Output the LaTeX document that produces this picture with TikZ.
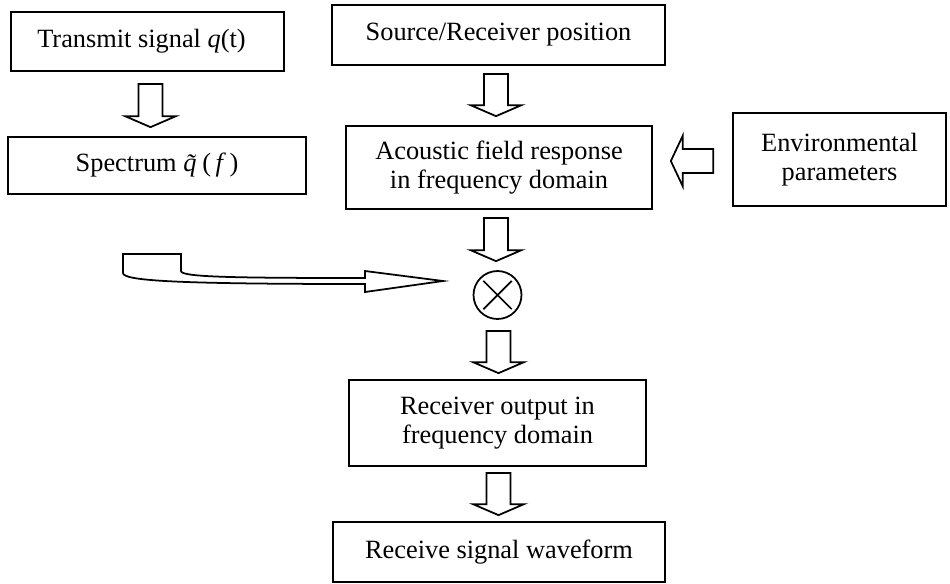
\documentclass[tikz,border=0pt]{standalone}
\usepackage{fontspec}
\setmainfont{Liberation Serif}
\usetikzlibrary{calc}
\tikzset{
  box/.style={draw,line width=1pt,inner sep=2pt,align=center,
              font=\fontsize{15}{16.5}\selectfont},
  mult/.style={circle,draw,line width=1pt,minimum size=0.96cm,inner sep=0pt,
              path picture={\draw[line width=1pt]
                (path picture bounding box.center) +(45:0.4cm) -- +(225:0.4cm)
                +(135:0.4cm) -- +(315:0.4cm);}},
  hollowdown/.style={draw,line width=1pt,fill=white,line join=miter,
    to path={let \p1=(\tikztostart),\p2=(\tikztotarget) in
      (\x1-0.24cm,\y1) -- (\x1+0.24cm,\y1) -- (\x1+0.24cm,\y2+0.22cm)
      -- (\x1+0.51cm,\y2+0.22cm) -- (\x1,\y2) -- (\x1-0.51cm,\y2+0.22cm)
      -- (\x1-0.24cm,\y2+0.22cm) -- cycle}},
  hollowleft/.style={draw,line width=1pt,fill=white,line join=miter,
    to path={let \p1=(\tikztostart),\p2=(\tikztotarget) in
      (\x1,\y1+0.24cm) -- (\x1,\y1-0.24cm) -- (\x2+0.24cm,\y1-0.24cm)
      -- (\x2+0.24cm,\y1-0.51cm) -- (\x2,\y1) -- (\x2+0.24cm,\y1+0.51cm)
      -- (\x2+0.24cm,\y1+0.24cm) -- cycle}},
  bentarrow/.style={draw,line width=1pt,fill=white,line join=miter},
}

\begin{document}
\begin{tikzpicture}[x=0.02cm,y=-0.02cm]
  \useasboundingbox (0,0) rectangle (950,583);
  % boxes of the chain, px positions of the layout
  \node[box,minimum width=5.46cm,minimum height=1.18cm] (tx) at (147.5,41.5)
    {Transmit signal \textit{q}(t)\hspace*{0.24cm}};
  \node[box,minimum width=5.96cm,minimum height=1.14cm] (sp) at (157,165.5)
    {Spectrum \textit{\~{q}}\kern-2.5pt(\kern2.5pt\textit{f}\kern2pt)};
  \node[box,minimum width=6.66cm,minimum height=1.2cm] (src) at (498.5,35)
    {Source/Receiver position};
  \node[box,minimum width=6.12cm,minimum height=1.66cm] (acf) at (499,167.5)
    {Acoustic field response\\in frequency domain};
  \node[box,minimum width=4.26cm,minimum height=1.86cm] (env) at (839.5,159.5)
    {Environmental\\parameters};
  \node[mult] (mul) at (497.5,295) {};
  \node[box,minimum width=5.94cm,minimum height=1.72cm] (rxo) at (497.5,423)
    {Receiver output in\\frequency domain};
  \node[box,minimum width=6.64cm,minimum height=1.2cm] (rsw) at (499,552)
    {Receive signal waveform};

  \draw[hollowdown] ([shift={(3,12)}]tx.south) to ([shift={(0,-9)}]sp.north);
  \draw[hollowdown] ([shift={(-2.5,8)}]src.south) to ([shift={(0,-9)}]acf.north);
  \draw[hollowdown] ([shift={(-3,8)}]acf.south) to ([shift={(0,-9)}]mul.north);
  \draw[hollowdown] ([shift={(1,11)}]mul.south) to ([shift={(0,-6)}]rxo.north);
  \draw[hollowdown] ([shift={(1,6)}]rxo.south) to ([shift={(0,-6)}]rsw.north);
  \draw[hollowleft] ([shift={(-19,1.5)}]env.west) to ([shift={(18,0)}]acf.east);

  % spectrum fed into the product
  \draw[bentarrow] (123,254) -- (181,254) -- (181,271)
    .. controls (181,277) and (230,278) .. (365,278) -- (365,271)
    -- (443,281) -- (365,292) -- (365,284)
    .. controls (180,284) and (123,281) .. (123,273) -- cycle;
\end{tikzpicture}
\end{document}
